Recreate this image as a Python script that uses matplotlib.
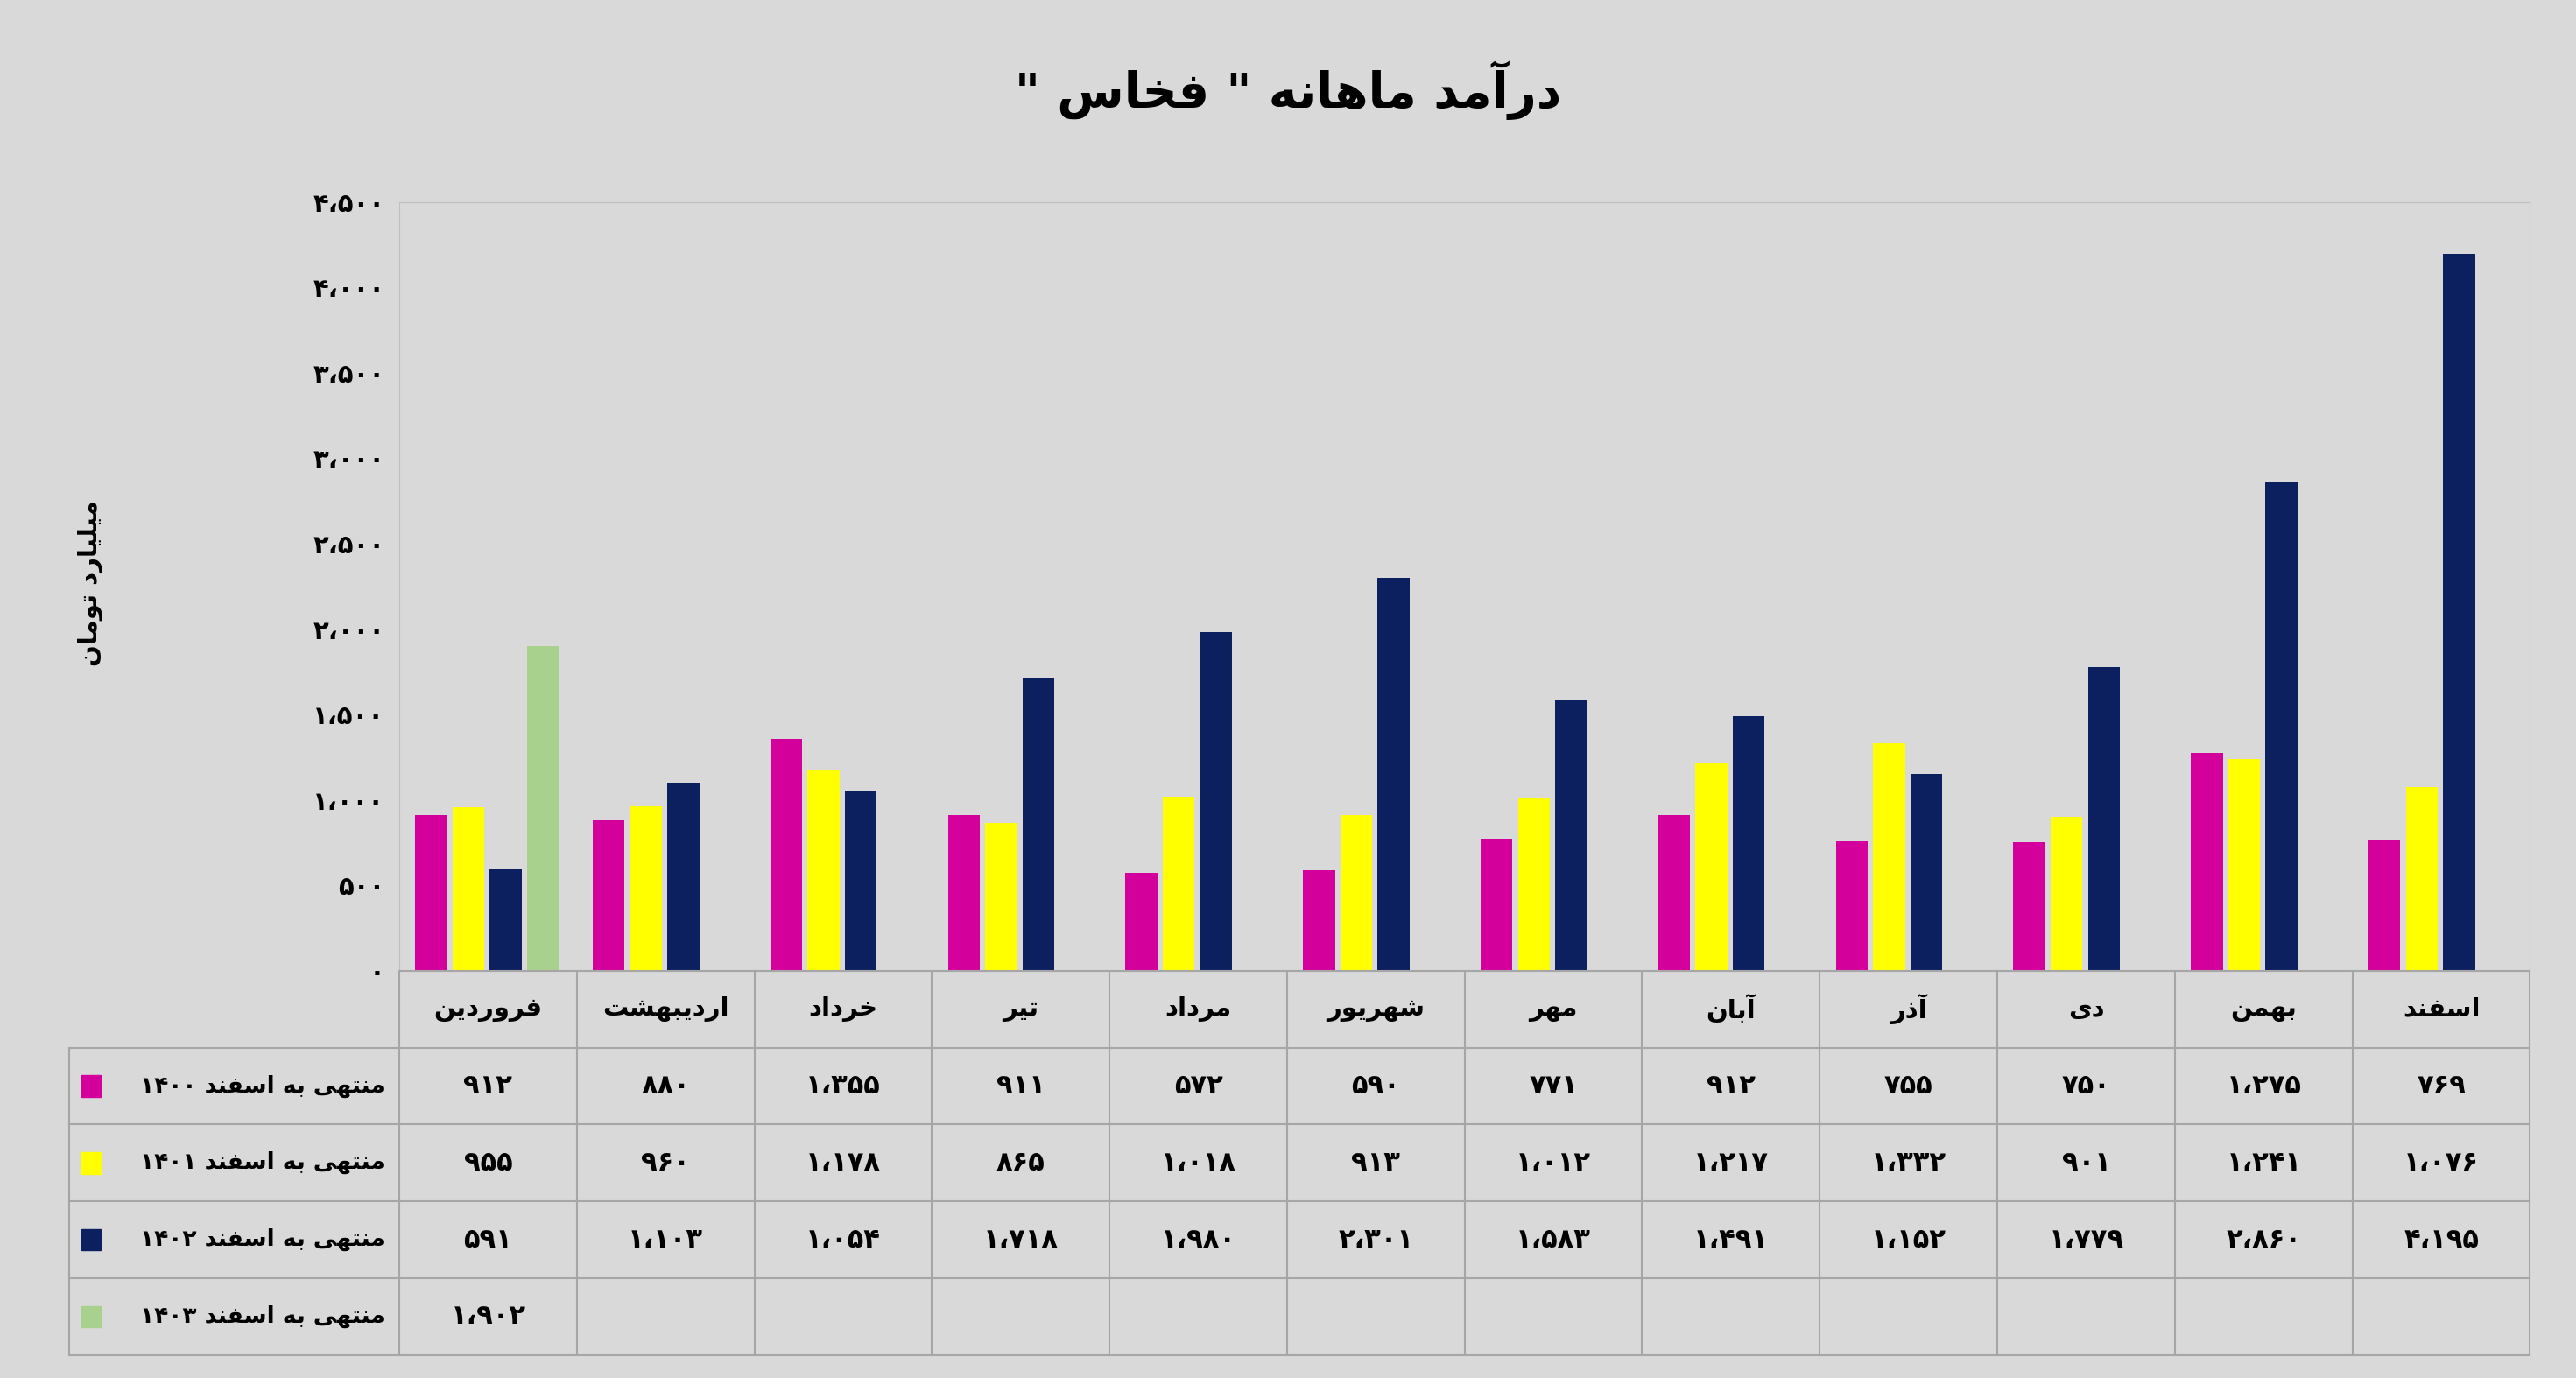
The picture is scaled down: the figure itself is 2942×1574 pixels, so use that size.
import matplotlib
matplotlib.use('Agg')
import matplotlib.pyplot as plt
from matplotlib.patches import Rectangle

plt.rcParams['font.family'] = ['DejaVu Sans']

months = ['فروردین', 'اردیبهشت', 'خرداد', 'تیر', 'مرداد', 'شهریور',
          'مهر', 'آبان', 'آذر', 'دی', 'بهمن', 'اسفند']
v1400 = [912, 880, 1355, 911, 572, 590, 771, 912, 755, 750, 1275, 769]
v1401 = [955, 960, 1178, 865, 1018, 913, 1012, 1217, 1332, 901, 1241, 1076]
v1402 = [591, 1103, 1054, 1718, 1980, 2301, 1583, 1491, 1152, 1779, 2860, 4195]
v1403 = [1902]
years = ['۱۴۰۰', '۱۴۰۱', '۱۴۰۲', '۱۴۰۳']
colors = ['#d4009b', '#ffff00', '#0c1f5e', '#a9d18e']
yticks = [0, 500, 1000, 1500, 2000, 2500, 3000, 3500, 4000, 4500]

# minimal arabic shaping: (isolated, final, initial, medial)
FORMS = {
    'ا': (0xFE8D, 0xFE8E, None, None), 'آ': (0xFE81, 0xFE82, None, None),
    'ب': (0xFE8F, 0xFE90, 0xFE91, 0xFE92), 'ت': (0xFE95, 0xFE96, 0xFE97, 0xFE98),
    'خ': (0xFEA5, 0xFEA6, 0xFEA7, 0xFEA8), 'د': (0xFEA9, 0xFEAA, None, None),
    'ذ': (0xFEAB, 0xFEAC, None, None), 'ر': (0xFEAD, 0xFEAE, None, None),
    'س': (0xFEB1, 0xFEB2, 0xFEB3, 0xFEB4), 'ش': (0xFEB5, 0xFEB6, 0xFEB7, 0xFEB8),
    'ف': (0xFED1, 0xFED2, 0xFED3, 0xFED4), 'ل': (0xFEDD, 0xFEDE, 0xFEDF, 0xFEE0),
    'م': (0xFEE1, 0xFEE2, 0xFEE3, 0xFEE4), 'ن': (0xFEE5, 0xFEE6, 0xFEE7, 0xFEE8),
    'ه': (0xFEE9, 0xFEEA, 0xFEEB, 0xFEEC), 'و': (0xFEED, 0xFEEE, None, None),
    'ی': (0xFEEF, 0xFEF0, 0xFEF3, 0xFEF4),
}

def shape(s):
    out = []
    for i, c in enumerate(s):
        if c not in FORMS:
            out.append(c)
            continue
        prev = s[i - 1] if i > 0 else ''
        nxt = s[i + 1] if i + 1 < len(s) else ''
        join_prev = prev in FORMS and FORMS[prev][2] is not None
        join_next = nxt in FORMS and FORMS[c][2] is not None
        f = FORMS[c]
        if join_prev and join_next:
            out.append(chr(f[3]))
        elif join_prev:
            out.append(chr(f[1]))
        elif join_next:
            out.append(chr(f[2]))
        else:
            out.append(chr(f[0]))
    return ''.join(out)[::-1]

def fa_num(n):
    s = '{:,}'.format(n).replace(',', '،')
    return s.translate(str.maketrans('0123456789', '۰۱۲۳۴۵۶۷۸۹'))

W, H = 2942, 1574
fig = plt.figure(figsize=(W / 100, H / 100), dpi=100, facecolor='#d9d9d9')

x0, x1 = 243 / 1568, 1540 / 1568
ytop, ybot = 123 / 839, 591 / 839
ax = fig.add_axes([x0, 1 - ybot, x1 - x0, ybot - ytop])
ax.set_facecolor('#d9d9d9')
series = [v1400, v1401, v1402, v1403]
offs = [0.18, 0.39, 0.60, 0.81]
for s, col, o in zip(series, colors, offs):
    ax.bar([i + o for i in range(len(s))], s, width=0.18, color=col, zorder=3)
ax.set_xlim(0, 12)
ax.set_ylim(0, 4500)
ax.set_xticks([])
ax.set_yticks(yticks)
ax.set_yticklabels([fa_num(t) for t in yticks], fontsize=21, fontweight='bold')
ax.tick_params(axis='y', length=0, pad=12)
for sp in ax.spines.values():
    sp.set_color('#bfbfbf')
fig.text(55 / 1568, 1 - 355 / 839, shape('تومان') + ' ' + shape('میلیارد'),
         rotation=90, ha='center', va='center', fontsize=21, fontweight='bold')
fig.text(0.5, 1 - 55 / 839, '" ' + shape('فخاس') + ' " ' + shape('ماهانه') + ' ' + shape('درآمد'),
         ha='center', va='center', fontsize=40, fontweight='bold')

# table
unit = (1540 - 243) / 12
lab_w = (243 - 42) / unit
tb = fig.add_axes([42 / 1568, 1 - 825 / 839, (1540 - 42) / 1568, (825 - 591) / 839])
tb.set_xlim(-lab_w, 12)
tb.set_ylim(5, 0)
tb.axis('off')
lc = '#a6a6a6'
for r in range(6):
    x_start = 0 if r == 0 else -lab_w
    tb.plot([x_start, 12], [r, r], color=lc, lw=1.5, clip_on=False)
tb.plot([-lab_w, -lab_w], [1, 5], color=lc, lw=1.5, clip_on=False)
for c in range(13):
    tb.plot([c, c], [0, 5], color=lc, lw=1.5, clip_on=False)
for i, m in enumerate(months):
    tb.text(i + 0.5, 0.5, shape(m), ha='center', va='center', fontsize=21, fontweight='bold')
for r, (s, col, yr) in enumerate(zip(series, colors, years)):
    y = r + 1.5
    tb.add_patch(Rectangle((-lab_w + 0.07, y - 0.14), 0.11, 0.28, color=col, clip_on=False))
    tb.text(-0.08, y, yr + ' ' + shape('اسفند') + ' ' + shape('به') + ' ' + shape('منتهی'),
            ha='right', va='center', fontsize=19, fontweight='bold')
    for i, v in enumerate(s):
        tb.text(i + 0.5, y, fa_num(v), ha='center', va='center', fontsize=22, fontweight='bold')

fig.savefig('out.png', dpi=100, facecolor=fig.get_facecolor())
